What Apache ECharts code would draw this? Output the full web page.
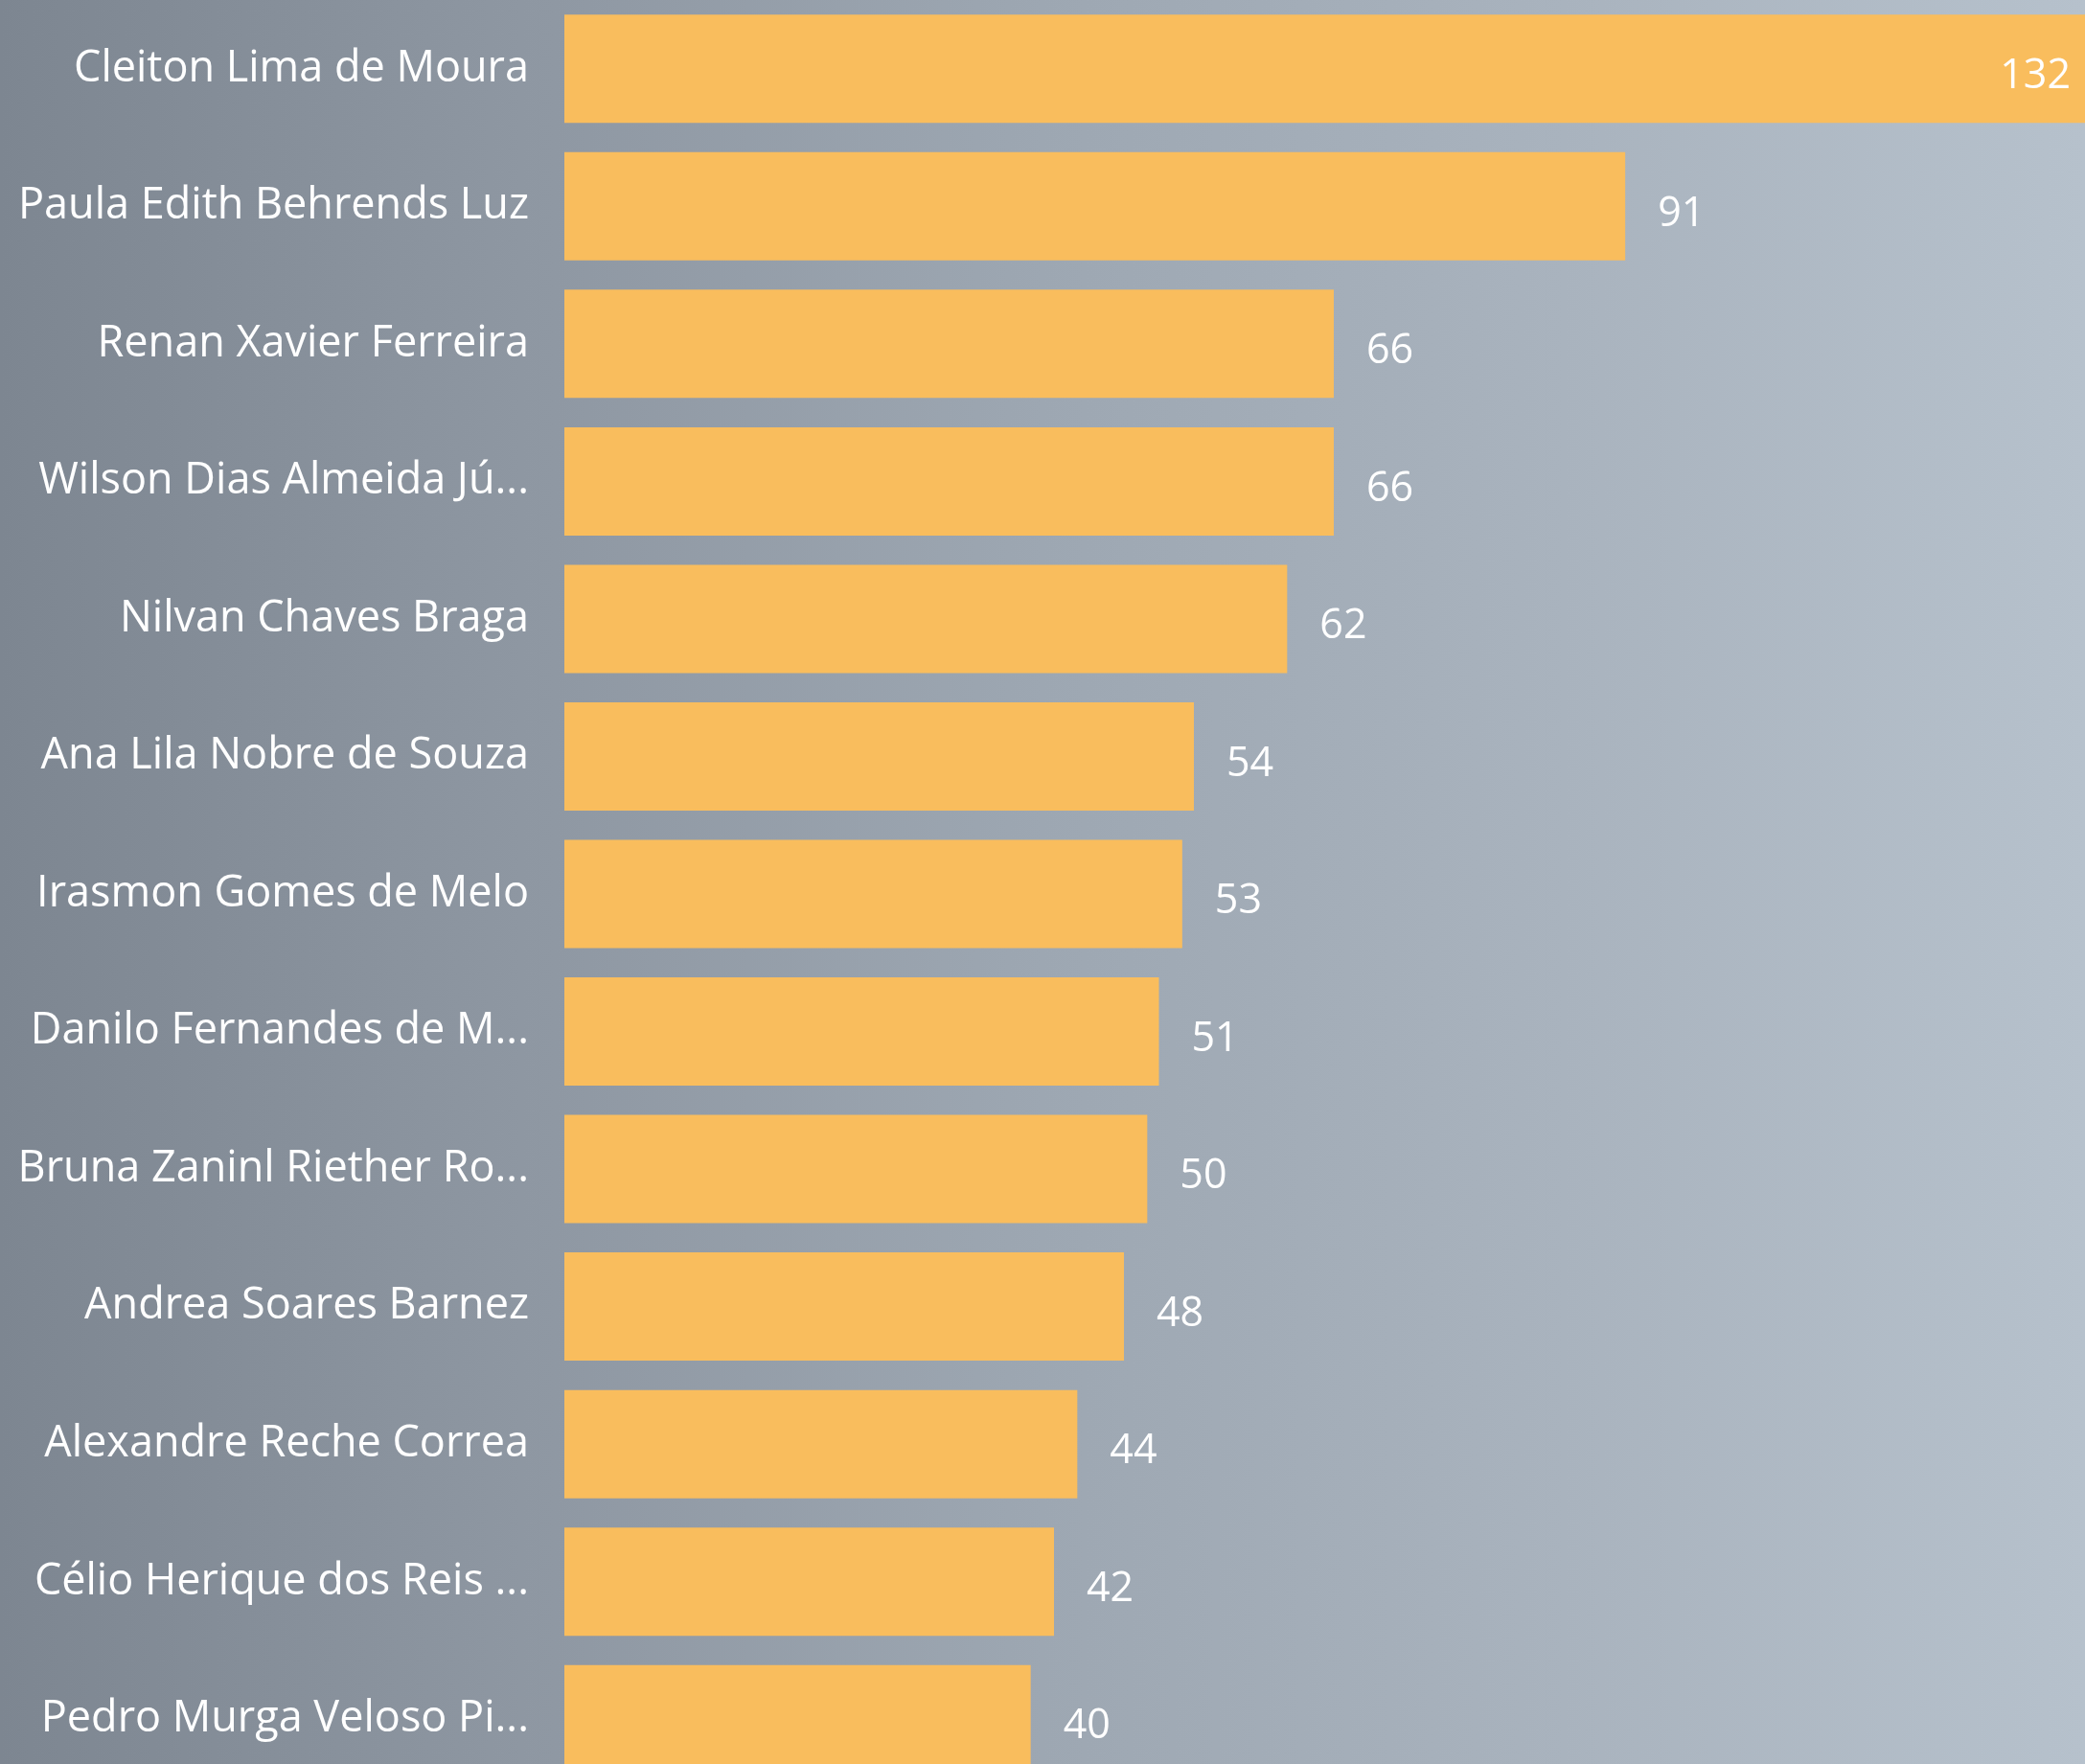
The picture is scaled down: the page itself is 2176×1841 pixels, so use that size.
<!DOCTYPE html>
<html>
<head>
<meta charset="utf-8">
<script src="https://cdn.jsdelivr.net/npm/echarts@6/dist/echarts.min.js"></script>
<style>
  html, body { margin: 0; padding: 0; }
  body {
    width: 2176px; height: 1841px; overflow: hidden; position: relative;
    background: linear-gradient(to right, #7d8691 0%, #8e97a2 25%, #9da7b2 50%, #a9b3be 75%, #b6c1cc 100%);
  }
  /* the plot runs past the right and bottom edges of the page */
  #chart { position: absolute; left: 0; top: 0; width: 2260px; height: 1900px; }
</style>
</head>
<body>
<div id="chart"></div>
<script>
// Ranking of people by count (top to bottom)
const names = [
  'Cleiton Lima de Moura',
  'Paula Edith Behrends Luz',
  'Renan Xavier Ferreira',
  'Wilson Dias Almeida Jú...',
  'Nilvan Chaves Braga',
  'Ana Lila Nobre de Souza',
  'Irasmon Gomes de Melo',
  'Danilo Fernandes de M...',
  'Bruna Zaninl Riether Ro...',
  'Andrea Soares Barnez',
  'Alexandre Reche Correa',
  'Célio Herique dos Reis ...',
  'Pedro Murga Veloso Pi...'
];
const counts = [132, 91, 66, 66, 62, 54, 53, 51, 50, 48, 44, 42, 40];

const FONT = '"Open Sans", "Noto Sans", sans-serif';
const maxCount = Math.max(...counts);

const chart = echarts.init(document.getElementById('chart'), null, { renderer: 'canvas' });

// the longest bar runs off the edge, so its value sits inside the bar
const barData = counts.map((v) => ({
  value: v,
  label: v === maxCount
    ? { position: 'insideRight', distance: 34 }
    : { position: 'right', distance: 34 }
}));

chart.setOption({
  backgroundColor: 'transparent',
  animation: false,
  grid: { left: 589, top: -5, width: 1606, height: 1871, containLabel: false },
  xAxis: {
    type: 'value', min: 0, max: maxCount,
    show: false
  },
  yAxis: {
    type: 'category', data: names, inverse: true,
    axisLine: { show: false }, axisTick: { show: false },
    splitLine: { show: false },
    axisLabel: {
      color: '#ffffff', fontFamily: FONT, fontSize: 45, margin: 37,
      padding: [12, 0, 0, 0]
    }
  },
  series: [{
    type: 'bar',
    data: barData,
    barWidth: 113,
    itemStyle: { color: '#f9bd5d' },
    label: {
      show: true, color: '#ffffff', fontFamily: FONT, fontSize: 43,
      offset: [0, 8]
    }
  }]
});
</script>
</body>
</html>
